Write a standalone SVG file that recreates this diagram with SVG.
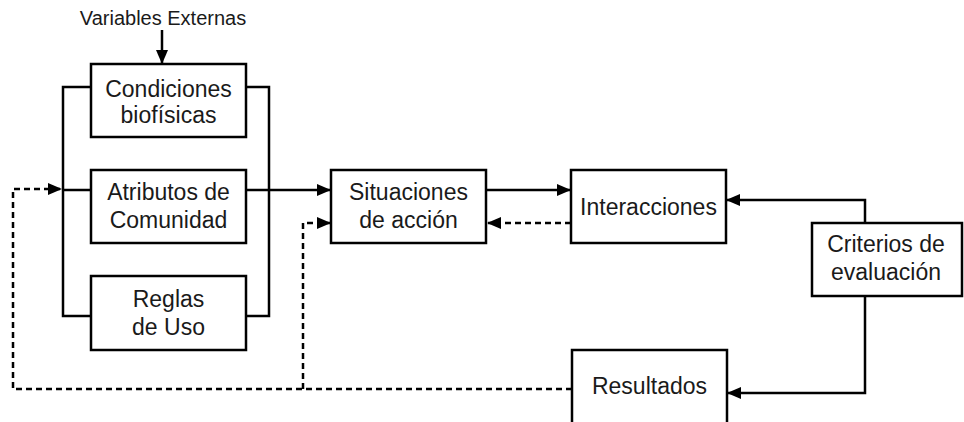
<svg xmlns="http://www.w3.org/2000/svg" width="964" height="422" viewBox="0 0 964 422">
  <defs>
    <marker id="arrow" markerUnits="userSpaceOnUse" markerWidth="14" markerHeight="14" viewBox="0 0 14 14" refX="13" refY="7" orient="auto">
      <path d="M0,1 L14,7 L0,13 Z" fill="#000"/>
    </marker>
    <style>
      .box { fill: #fff; stroke: #000; stroke-width: 2.5; }
      .lbl { font-family: "Liberation Sans", Arial, Helvetica, sans-serif; font-size: 23px; fill: #1a1a1a; text-anchor: middle; }
      .small { font-size: 20px; }
      .line { fill: none; stroke: #000; stroke-width: 2.5; }
      .arr { marker-end: url(#arrow); }
      .dash { stroke-dasharray: 6 4; }
    </style>
  </defs>

  <rect width="964" height="422" fill="#fff"/>

  <!-- connectors -->
  <g id="connectors">
    <!-- bracket gathering the three context boxes -->
    <path class="line" d="M91,87 H63 V316 H91 M63,190 H91"/>
    <path class="line" d="M246,87 H269 V316 H246 M246,190 H269"/>
    <!-- external variables input -->
    <path class="line arr" d="M162,30 V63"/>
    <!-- main flow -->
    <path class="line arr" d="M269,190 H330"/>
    <path class="line arr" d="M486,190 H570"/>
    <!-- evaluation criteria -->
    <path class="line arr" d="M865,223 V200 H727"/>
    <path class="line arr" d="M865,296 V393 H728"/>
    <!-- feedback loops -->
    <path class="line dash arr" d="M571,223 H488"/>
    <path class="line dash arr" d="M572,389 H13 V189 H61"/>
    <path class="line dash arr" d="M303,389 V223 H330"/>
  </g>

  <text class="lbl small" x="163" y="25">Variables Externas</text>

  <g id="condiciones">
    <rect class="box" x="91" y="64" width="155" height="73"/>
    <text class="lbl" x="168.5" y="97">Condiciones</text>
    <text class="lbl" x="168.5" y="123">biofísicas</text>
  </g>

  <g id="atributos">
    <rect class="box" x="91" y="170" width="155" height="73"/>
    <text class="lbl" x="168.5" y="200">Atributos de</text>
    <text class="lbl" x="168.5" y="228">Comunidad</text>
  </g>

  <g id="reglas">
    <rect class="box" x="91" y="276" width="155" height="74"/>
    <text class="lbl" x="168.5" y="307">Reglas</text>
    <text class="lbl" x="168.5" y="335">de Uso</text>
  </g>

  <g id="situaciones">
    <rect class="box" x="331" y="170" width="155" height="73"/>
    <text class="lbl" x="408.5" y="200">Situaciones</text>
    <text class="lbl" x="408.5" y="228">de acción</text>
  </g>

  <g id="interacciones">
    <rect class="box" x="571" y="170" width="155" height="73"/>
    <text class="lbl" x="648.5" y="215">Interacciones</text>
  </g>

  <g id="criterios">
    <rect class="box" x="812" y="223" width="150" height="73"/>
    <text class="lbl" x="886" y="252">Criterios de</text>
    <text class="lbl" x="886" y="280">evaluación</text>
  </g>

  <g id="resultados">
    <rect class="box" x="572" y="350" width="155" height="90"/>
    <text class="lbl" x="649.5" y="394">Resultados</text>
  </g>
</svg>
